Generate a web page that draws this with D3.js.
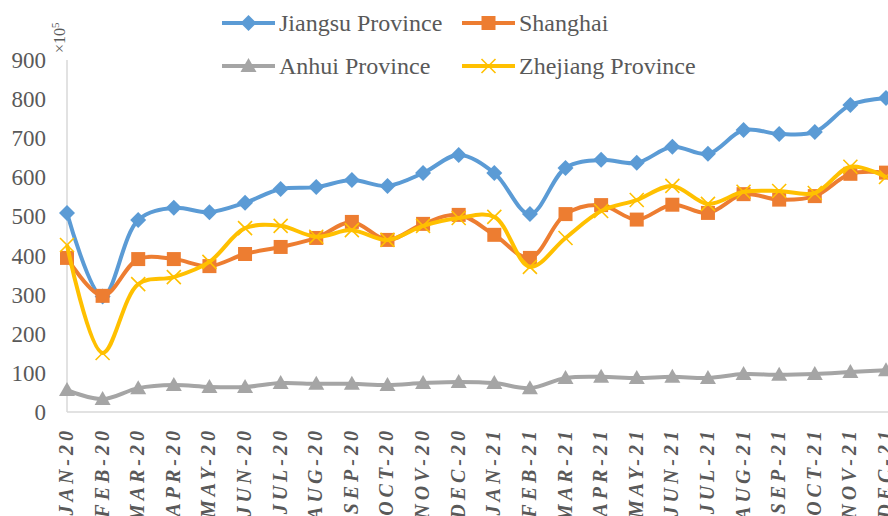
<!DOCTYPE html>
<html>
<head>
<meta charset="utf-8">
<script src="https://cdn.jsdelivr.net/npm/d3@7"></script>
<style>
  body { margin: 0; background: #fff; }
  svg { display: block; font-family: "Liberation Serif", "Times New Roman", serif; }
</style>
</head>
<body>
<svg id="chart" width="888" height="516"></svg>
<script>

// Categories.
var months = ['JAN-20', 'FEB-20', 'MAR-20', 'APR-20', 'MAY-20', 'JUN-20',
  'JUL-20', 'AUG-20', 'SEP-20', 'OCT-20', 'NOV-20', 'DEC-20',
  'JAN-21', 'FEB-21', 'MAR-21', 'APR-21', 'MAY-21', 'JUN-21',
  'JUL-21', 'AUG-21', 'SEP-21', 'OCT-21', 'NOV-21', 'DEC-21'];

// Series values (x10^5).
var jiangsu = [509, 295, 491, 522, 511, 535, 570, 575, 593, 578, 611, 657,
  611, 506, 624, 645, 637, 678, 660, 721, 711, 716, 785, 803];
var shanghai = [394, 297, 391, 391, 373, 404, 422, 445, 486, 440, 481, 504,
  453, 394, 506, 529, 492, 530, 509, 557, 543, 552, 609, 612];
var anhui = [56, 33, 61, 69, 64, 64, 74, 72, 72, 69, 74, 77,
  74, 61, 87, 90, 87, 90, 87, 97, 95, 97, 102, 107];
var zhejiang = [427, 151, 327, 345, 384, 470, 476, 448, 465, 440, 476, 496,
  499, 371, 445, 514, 542, 578, 532, 563, 565, 560, 627, 601];

// Tick labels.
var yTicks = [0, 100, 200, 300, 400, 500, 600, 700, 800, 900];

var series = [
  { name: 'Jiangsu Province', values: jiangsu, color: '#5B9BD5', marker: 'diamond' },
  { name: 'Shanghai', values: shanghai, color: '#ED7D31', marker: 'square' },
  { name: 'Anhui Province', values: anhui, color: '#A5A5A5', marker: 'triangle' },
  { name: 'Zhejiang Province', values: zhejiang, color: '#FFC000', marker: 'cross' }
];

var svg = d3.select('#chart');
var textColor = '#595959';

// Scales.
var x = d3.scalePoint().domain(months).range([67, 886]);
var y = d3.scaleLinear().domain([0, 900]).range([412, 60]);

// Axis lines.
svg.append('line')
  .attr('x1', 67).attr('x2', 67).attr('y1', y(900)).attr('y2', y(0))
  .attr('stroke', '#D9D9D9').attr('stroke-width', 1.5);
svg.append('line')
  .attr('x1', 67).attr('x2', 888).attr('y1', y(0)).attr('y2', y(0))
  .attr('stroke', '#D9D9D9').attr('stroke-width', 1.5);

// Y tick labels.
svg.selectAll('.ytick').data(yTicks).enter().append('text')
  .attr('class', 'ytick')
  .attr('x', 46)
  .attr('y', function(d) { return y(d); })
  .attr('dy', '0.35em')
  .attr('text-anchor', 'end')
  .attr('font-size', 23)
  .attr('fill', textColor)
  .text(function(d) { return d; });

// Unit label.
svg.append('text')
  .attr('transform', 'translate(65,53) rotate(-90)')
  .attr('font-size', 16)
  .attr('fill', textColor)
  .html('×10<tspan dy="-6" font-size="11">5</tspan>');

// X tick labels.
svg.selectAll('.xtick').data(months).enter().append('text')
  .attr('class', 'xtick')
  .attr('transform', function(d) { return 'translate(' + (x(d) + 6) + ',427) rotate(-90)'; })
  .attr('text-anchor', 'end')
  .attr('font-size', 20)
  .attr('font-weight', 'bold')
  .attr('font-style', 'italic')
  .attr('letter-spacing', 4)
  .attr('fill', textColor)
  .text(function(d) { return d; });

// Marker shapes.
function markerPath(type) {
  if (type === 'diamond') return 'M0,-8L8,0L0,8L-8,0Z';
  if (type === 'square') return 'M-7,-7H7V7H-7Z';
  if (type === 'triangle') return 'M0,-8L8,6H-8Z';
  return 'M-7,-7L7,7M-7,7L7,-7';
}

function drawMarker(g, s) {
  var p = g.append('path').attr('d', markerPath(s.marker));
  if (s.marker === 'cross') {
    p.attr('fill', 'none').attr('stroke', s.color).attr('stroke-width', 1.6);
  } else {
    p.attr('fill', s.color);
  }
}

// Lines and markers.
var line = d3.line()
  .x(function(d, i) { return x(months[i]); })
  .y(function(d) { return y(d); })
  .curve(d3.curveCatmullRom.alpha(0.5));

series.forEach(function(s) {
  svg.append('path')
    .datum(s.values)
    .attr('d', line)
    .attr('fill', 'none')
    .attr('stroke', s.color)
    .attr('stroke-width', 4)
    .attr('stroke-linejoin', 'round');

  s.values.forEach(function(v, i) {
    var g = svg.append('g')
      .attr('transform', 'translate(' + x(months[i]) + ',' + y(v) + ')');
    drawMarker(g, s);
  });
});

// Legend.
var legendPos = [[222, 23], [462, 23], [222, 66], [462, 66]];

series.forEach(function(s, i) {
  var lx = legendPos[i][0];
  var ly = legendPos[i][1];
  svg.append('line')
    .attr('x1', lx).attr('x2', lx + 53).attr('y1', ly).attr('y2', ly)
    .attr('stroke', s.color).attr('stroke-width', 4);
  var g = svg.append('g').attr('transform', 'translate(' + (lx + 26.5) + ',' + ly + ')');
  drawMarker(g, s);
  svg.append('text')
    .attr('x', lx + 57)
    .attr('y', ly)
    .attr('dy', '0.35em')
    .attr('font-size', 24)
    .attr('fill', textColor)
    .text(s.name);
});

</script>
</body>
</html>
